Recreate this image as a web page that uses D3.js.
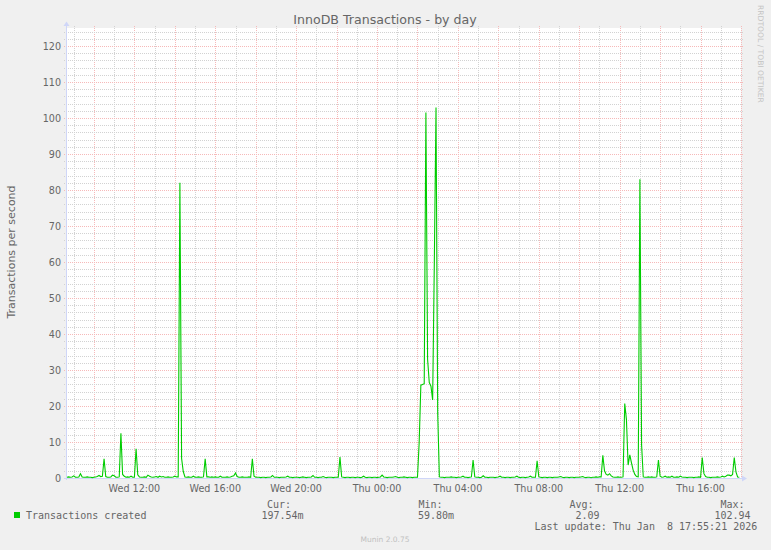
<!DOCTYPE html>
<html><head><meta charset="utf-8">
<script src="https://cdn.jsdelivr.net/npm/d3@7"></script>
<style>
html,body{margin:0;padding:0;background:#f0f0f0;}
svg{display:block;}
text{font-family:"DejaVu Sans",sans-serif;fill:#666666;}
.mono{font-family:"DejaVu Sans Mono",monospace;white-space:pre;}
</style></head><body>
<svg id="c" width="771" height="550"></svg>
<script>
// ---------- data ----------
const chartTitle = "InnoDB Transactions - by day";
const yAxisLabel = "Transactions per second";
const seriesName = "Transactions created";
const startTime = Date.UTC(2026, 0, 7, 8, 40);   // first 5-minute sample
const stepMinutes = 5;
const values = [
 0.2,0.3,0.2,0.3,0.6,0.2,0.2,0.3,1.2,0.3, 0.2,0.2,0.3,0.2,0.2,0.1,0.2,0.3,0.4,0.7,
 0.4,0.5,5.3,0.4,0.2,0.2,0.3,0.8,0.6,0.2, 0.2,0.3,12.4,1.0,0.5,0.2,0.3,0.2,0.5,0.2,
 0.2,8.1,0.9,0.3,0.2,0.2,0.3,0.2,0.8,0.5, 0.3,0.2,0.3,0.4,0.2,0.5,0.3,0.4,0.2,0.2,
 0.3,0.2,0.2,0.3,0.5,0.3,0.3,82,5.5,1.8, 0.3,0.2,0.3,0.2,0.2,0.5,0.2,0.2,0.3,0.2,
 0.2,0.3,5.3,0.3,0.3,0.2,0.3,0.2,0.3,0.2, 0.2,0.5,0.2,0.2,0.2,0.3,0.2,0.3,0.5,0.6,
 1.4,0.4,0.2,0.2,0.3,0.2,0.2,0.2,0.3,0.2, 5.3,0.5,0.2,0.2,0.2,0.1,0.2,0.2,0.1,0.2,
 0.2,0.3,0.7,0.2,0.2,0.2,0.1,0.2,0.2,0.2, 0.3,0.5,0.2,0.2,0.1,0.2,0.2,0.2,0.1,0.2,
 0.3,0.2,0.1,0.2,0.2,0.3,0.7,0.2,0.2,0.1, 0.2,0.2,0.4,0.2,0.1,0.2,0.2,0.2,0.1,0.2,
 0.2,0.2,5.8,0.3,0.2,0.1,0.2,0.2,0.1,0.2, 0.2,0.1,0.2,0.2,0.1,0.2,0.5,0.2,0.1,0.2,
 0.2,0.1,0.2,0.2,0.1,0.2,0.3,0.8,0.3,0.2, 0.1,0.2,0.2,0.2,0.3,0.4,0.2,0.1,0.2,0.2,
 0.3,0.2,0.1,0.2,0.2,0.1,0.2,0.2,0.2,9.8, 25.8,26,26.2,101.5,33,26.5,25.5,21.7,60,102.94,
 18,0.3,0.2,0.2,0.1,0.2,0.2,0.2,0.3,0.2, 0.2,0.1,0.2,0.2,0.3,0.5,0.2,0.2,0.1,0.2,
 0.3,5.0,0.3,0.2,0.2,0.1,0.2,0.6,0.2,0.2, 0.1,0.2,0.2,0.2,0.1,0.2,0.3,0.5,0.2,0.2,
 0.1,0.2,0.2,0.1,0.2,0.2,0.3,0.5,0.2,0.1, 0.2,0.2,0.1,0.2,0.3,0.5,0.2,0.2,0.2,4.8,
 0.3,0.2,0.1,0.2,0.2,0.1,0.2,0.2,0.1,0.2, 0.2,0.2,0.3,0.4,0.2,0.1,0.2,0.2,0.1,0.2,
 0.2,0.1,0.2,0.2,0.2,0.3,0.4,0.2,0.1,0.2, 0.2,0.06,0.2,0.2,0.3,0.2,0.3,0.3,6.3,2.0,
 1.0,0.8,1.2,0.6,0.3,0.2,0.2,0.3,0.2,0.2, 0.3,20.7,16.3,3.6,6.4,4.2,2.2,1.0,0.4,0.3,
 83,9.2,0.3,0.2,0.2,0.3,0.2,0.3,0.2,0.2, 0.3,5.0,0.5,0.2,0.3,0.5,0.2,0.3,0.2,0.5,
 0.2,0.2,0.3,0.2,0.5,0.3,0.2,0.2,0.1,0.2, 0.2,0.2,0.1,0.2,0.2,0.3,0.2,5.7,1.2,0.4,
 0.2,0.2,0.1,0.2,0.2,0.2,0.3,0.2,0.3,0.5, 0.3,0.5,0.8,0.8,0.6,1.0,5.7,1.7,0.3,0.1975
];
const yTicks = [0,10,20,30,40,50,60,70,80,90,100,110,120];
const xLabels = ["Wed 12:00","Wed 16:00","Wed 20:00","Thu 00:00","Thu 04:00","Thu 08:00","Thu 12:00","Thu 16:00"];
const xLabelTimes = [Date.UTC(2026,0,7,12),Date.UTC(2026,0,7,16),Date.UTC(2026,0,7,20),Date.UTC(2026,0,8,0),
                     Date.UTC(2026,0,8,4),Date.UTC(2026,0,8,8),Date.UTC(2026,0,8,12),Date.UTC(2026,0,8,16)];
const statLabels = ["Cur:","Min:","Avg:","Max:"];
const statValues = ["197.54m","59.80m","2.09","102.94"];
const lastUpdate = "Last update: Thu Jan  8 17:55:21 2026";
const footer = "Munin 2.0.75";
const watermark = "RRDTOOL / TOBI OETIKER";

// ---------- drawing ----------
const svg = d3.select("#c");
const L = 67, R = 741, T = 28, B = 478;
const endTime = startTime + values.length * stepMinutes * 60000;
const x = d3.scaleUtc().domain([startTime, endTime]).range([L, R]);
const y = d3.scaleLinear().domain([0, 125]).range([B, T]);
const points = values.map((v, i) => ({t: startTime + i * stepMinutes * 60000, v}));

svg.append("rect").attr("width", 771).attr("height", 550).attr("fill", "#f0f0f0");
svg.append("rect").attr("x", L).attr("y", T).attr("width", R - L).attr("height", B - T).attr("fill", "#ffffff");

const minorCol = "#d2d2d2", majorCol = "#f6b9b9";
const gGrid = svg.append("g").attr("shape-rendering", "crispEdges");
// vertical grid
const hours = x.ticks(d3.utcHour.every(1));
hours.forEach(h => {
  const d = new Date(h);
  const major = d.getUTCHours() % 2 === 0;
  const px = Math.round(x(h)) + 0.5;
  gGrid.append("line").attr("x1", px).attr("x2", px).attr("y1", T - 2).attr("y2", B + 2)
    .attr("stroke", major ? majorCol : minorCol).attr("stroke-width", 1).attr("stroke-dasharray", "1,1");
});
// horizontal grid
d3.range(2, 125, 2).forEach(v => {
  const major = v % 10 === 0;
  const py = Math.round(y(v)) + 0.5;
  gGrid.append("line").attr("x1", L - 3).attr("x2", R + 2).attr("y1", py).attr("y2", py)
    .attr("stroke", major ? majorCol : minorCol).attr("stroke-width", 1).attr("stroke-dasharray", "1,1");
});

// axes (munin AXIS / ARROW colour)
const axisCol = "#cfd6f8";
svg.append("line").attr("x1", L - 0.5).attr("x2", L - 0.5).attr("y1", B + 2).attr("y2", T - 3)
  .attr("stroke", axisCol).attr("stroke-width", 1).attr("shape-rendering", "crispEdges");
svg.append("path").attr("d", `M${L - 3.5},${T - 2}L${L - 0.5},${T - 6.5}L${L + 2.5},${T - 2}Z`).attr("fill", axisCol);
svg.append("line").attr("x1", L - 3).attr("x2", R + 2).attr("y1", B + 0.5).attr("y2", B + 0.5)
  .attr("stroke", axisCol).attr("stroke-width", 1).attr("shape-rendering", "crispEdges");
svg.append("path").attr("d", `M${R + 1},${B - 2.5}L${R + 6},${B + 0.5}L${R + 1},${B + 3.5}Z`).attr("fill", axisCol);

// data line
const line = d3.line().x(d => x(d.t)).y(d => y(d.v));
svg.append("path").datum(points).attr("d", line).attr("fill", "none")
  .attr("stroke", "#00cc00").attr("stroke-width", 1.1).attr("stroke-linejoin", "miter");

// y tick labels
svg.append("g").selectAll("text").data(yTicks).join("text")
  .attr("x", 61).attr("y", d => y(d) + 3.6).attr("text-anchor", "end")
  .attr("font-size", "9.6px").text(d => d);

// x tick labels
svg.append("g").selectAll("text").data(xLabels).join("text")
  .attr("x", (d, i) => x(xLabelTimes[i])).attr("y", 491.5).attr("text-anchor", "middle")
  .attr("font-size", "9.6px").text(d => d);

// title
svg.append("text").attr("x", 385).attr("y", 24).attr("text-anchor", "middle")
  .attr("font-size", "12.6px").text(chartTitle);

// y axis label
svg.append("text").attr("transform", "translate(15,252) rotate(-90)").attr("text-anchor", "middle")
  .attr("font-size", "11px").text(yAxisLabel);

// watermark
svg.append("text").attr("transform", "translate(758,5) rotate(90)")
  .attr("font-size", "7.6px").style("fill", "#c4c4c4").text(watermark);

// legend
svg.append("rect").attr("x", 14).attr("y", 512).attr("width", 6).attr("height", 6).attr("fill", "#00cc00");
svg.append("text").attr("class", "mono").attr("x", 26).attr("y", 518.5).attr("font-size", "10px").text(seriesName);

const labX = [267, 418.5, 569.5, 720.5];
const valX = [261.5, 418, 575.5, 714.5];
statLabels.forEach((s, i) => {
  svg.append("text").attr("class", "mono").attr("x", labX[i]).attr("y", 507.5).attr("font-size", "10px").text(s);
  svg.append("text").attr("class", "mono").attr("x", valX[i]).attr("y", 518.5).attr("font-size", "10px").text(statValues[i]);
});
svg.append("text").attr("class", "mono").attr("x", 534.5).attr("y", 530).attr("font-size", "10px").text(lastUpdate);

svg.append("text").attr("x", 385).attr("y", 542).attr("text-anchor", "middle")
  .attr("font-size", "7.5px").style("fill", "#c0c0c0").text(footer);
</script>
</body></html>
